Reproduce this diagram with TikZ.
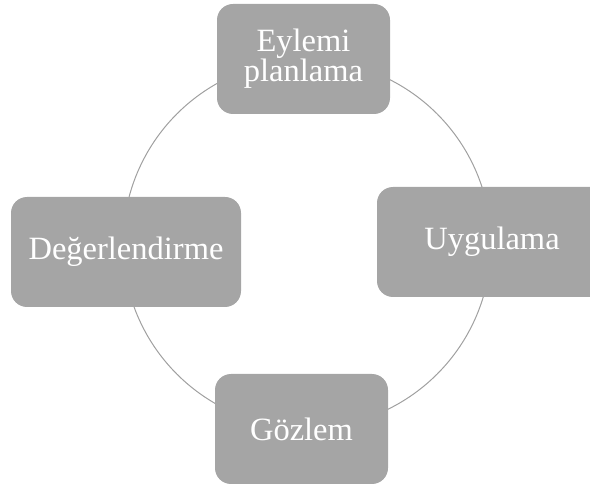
\documentclass[tikz,border=0pt]{standalone}
\usepackage{xcolor}
\usepackage{fontspec}
\setmainfont{Liberation Serif}
\usepackage{tikz}
\usetikzlibrary{positioning}

\definecolor{boxgray}{HTML}{A5A5A5}
\definecolor{ringgray}{HTML}{A0A0A0}

\tikzset{
  stage/.style={fill=boxgray, rounded corners=16pt, text=white, align=center,
    minimum height=110pt, inner sep=0pt, font=\fontsize{32.5}{30}\selectfont},
  narrowstage/.style={stage, minimum width=173pt},
  widestage/.style={stage, minimum width=230pt}
}

\begin{document}
\begin{tikzpicture}[x=1pt,y=1pt]

% Page frame
\useasboundingbox (0,0) rectangle (590,488);
\clip (0,0) rectangle (590,488);

% Radius
\def\r{184}

% Cycle ring
\coordinate (centre) at (307,244);
\draw[ringgray, line width=1pt] (centre) circle (\r);

% Stages
\node[narrowstage] (plan) at (303.5,429) {Eylemi\\planlama};
\node[widestage] (apply) at (492,246) {Uygulama};
\node[narrowstage] (observe) at (301.5,59) {Gözlem};
\node[widestage] (assess) at (126,236) {Değerlendirme};

\end{tikzpicture}
\end{document}
